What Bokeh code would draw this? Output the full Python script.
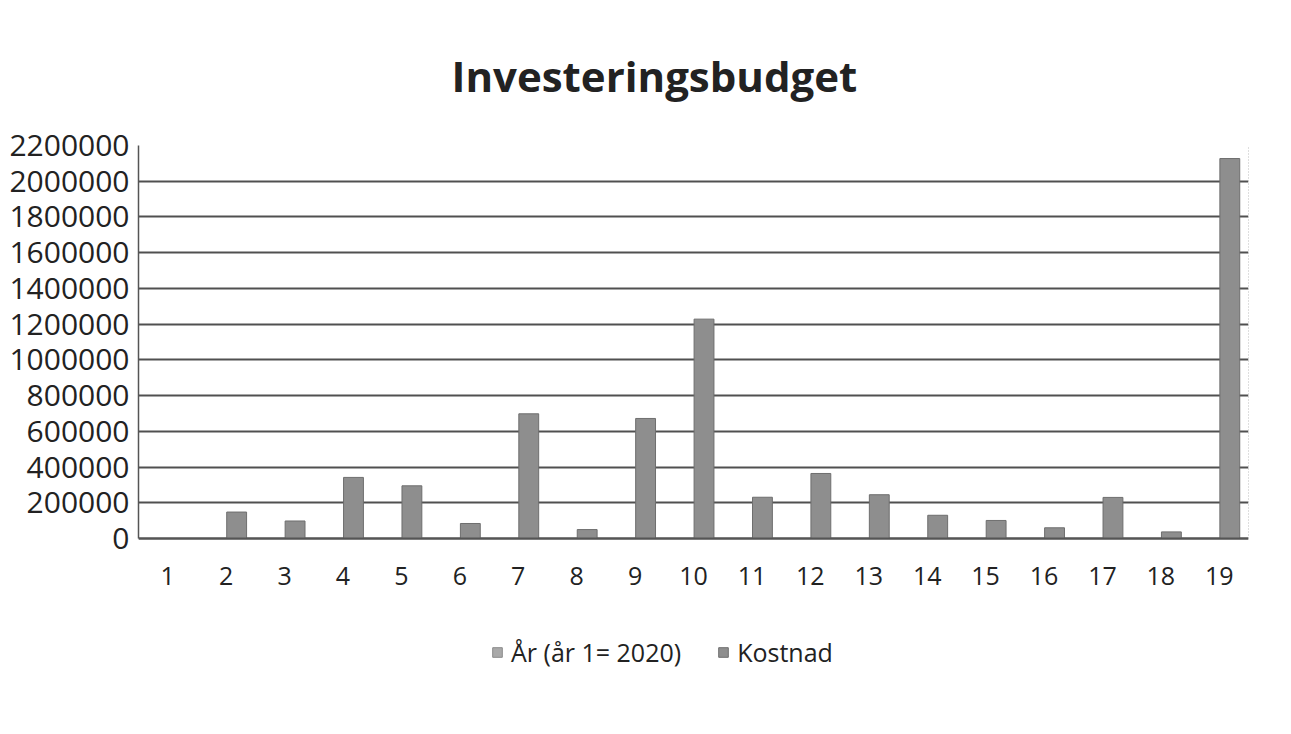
from bokeh.plotting import figure
from bokeh.models import (Range1d, FixedTicker, Legend, LegendItem, Title,
                          LinearAxis, ColumnDataSource)
from bokeh.transform import dodge
from bokeh.embed import file_html
from bokeh.resources import INLINE

# ---- data ----
categories = [1, 2, 3, 4, 5, 6, 7, 8, 9, 10, 11, 12, 13, 14, 15, 16, 17, 18, 19]
aar = [1, 2, 3, 4, 5, 6, 7, 8, 9, 10, 11, 12, 13, 14, 15, 16, 17, 18, 19]
kostnad = [0, 148000, 98000, 342000, 295000, 84000, 698000, 50000, 672000,
           1228000, 231000, 364000, 245000, 130000, 101000, 60000, 230000,
           37000, 2127000]
y_ticks = [0, 200000, 400000, 600000, 800000, 1000000, 1200000, 1400000,
           1600000, 1800000, 2000000, 2200000]
title_text = "Investeringsbudget"
series_names = ["År (år 1= 2020)", "Kostnad"]

FONT = "Open Sans"
Y_MAX = 2200000
PLOT_H = 393          # pixel height of the value area (0 .. Y_MAX)
EXTRA_H = 161         # room under the zero line for tick labels and legend

src = ColumnDataSource(dict(x=categories, aar=aar, kostnad=kostnad))

p = figure(frame_width=1110, frame_height=PLOT_H + EXTRA_H,
           output_backend="svg", toolbar_location=None,
           x_range=Range1d(0.5, 19.5),
           y_range=Range1d(-Y_MAX * EXTRA_H / PLOT_H, Y_MAX),
           min_border_left=138, min_border_right=32, min_border_top=145,
           min_border_bottom=10)
p.outline_line_color = None
p.background_fill_color = "white"
p.border_fill_color = "white"

r1 = p.vbar(x=dodge("x", -0.18, range=p.x_range), top="aar", width=0.34,
            source=src, fill_color="#a9a9a9", line_color="#8a8a8a")
r2 = p.vbar(x=dodge("x", 0.18, range=p.x_range), top="kostnad", width=0.34,
            source=src, fill_color="#8e8e8e", line_color="#6e6e6e", line_width=1)

# grid
p.xgrid.grid_line_color = None
p.ygrid.ticker = FixedTicker(ticks=y_ticks)
p.ygrid.grid_line_color = "#505050"
p.ygrid.grid_line_width = 1.8

# y axis
p.yaxis.ticker = FixedTicker(ticks=y_ticks)
p.yaxis.bounds = (0, Y_MAX)
p.yaxis.formatter.use_scientific = False
p.yaxis.major_tick_line_color = None
p.yaxis.minor_tick_line_color = None
p.yaxis.major_label_standoff = 3
p.yaxis.major_label_text_font = FONT
p.yaxis.major_label_text_font_size = "30px"
p.yaxis.major_label_text_color = "#222222"
p.yaxis.axis_line_color = "#555555"
p.yaxis.axis_line_width = 1.5

# x axis at the zero line
p.xaxis.fixed_location = 0
p.xaxis.ticker = FixedTicker(ticks=categories)
p.xaxis.major_tick_line_color = None
p.xaxis.minor_tick_line_color = None
p.xaxis.major_label_standoff = 22
p.xaxis.major_label_text_font = FONT
p.xaxis.major_label_text_font_size = "25px"
p.xaxis.major_label_text_color = "#222222"
p.xaxis.axis_line_color = "#555555"
p.xaxis.axis_line_width = 1.8

# faint right edge of the plot area
ra = LinearAxis(ticker=FixedTicker(ticks=[]), bounds=(0, Y_MAX))
ra.axis_line_color = "#bdbdbd"
ra.axis_line_dash = "1 2"
ra.minor_tick_line_color = None
p.add_layout(ra, "right")

# title
t = Title(text=title_text, align="left", offset=313, standoff=84,
          text_font=FONT, text_font_style="bold", text_font_size="42px",
          text_color="#222222")
p.add_layout(t, "above")

legend = Legend(items=[LegendItem(label=series_names[0], renderers=[r1]),
                       LegendItem(label=series_names[1], renderers=[r2])],
                location=(353, 30), orientation="horizontal",
                glyph_width=12, glyph_height=12, label_standoff=8,
                spacing=36, padding=0, margin=0,
                label_text_font=FONT, label_text_font_size="25px",
                label_text_color="#222222", border_line_color=None,
                background_fill_alpha=0)
p.add_layout(legend, "center")

open("out.html", "w").write(file_html(p, INLINE))
